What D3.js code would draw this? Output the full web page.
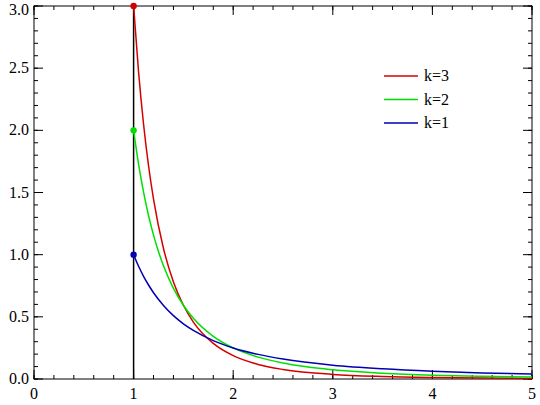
<!DOCTYPE html>
<html><head><meta charset="utf-8">
<script src="https://cdn.jsdelivr.net/npm/d3@7"></script>
<style>body{margin:0;background:#fff}</style>
</head><body><svg width="540" height="405"></svg>
<script>
var xs = [1, 1.05, 1.1, 1.15, 1.2, 1.3, 1.4, 1.5, 1.6, 1.8, 2, 2.25, 2.5, 3, 3.5, 4, 4.5, 5];
var k1 = [1, .907, .826, .756, .694, .592, .510, .444, .391, .309, .25, .198, .16, .111, .082, .0625, .049, .04];
var k2 = [2, 1.728, 1.503, 1.315, 1.157, .910, .729, .593, .488, .343, .25, .176, .128, .074, .047, .031, .022, .016];
var k3 = [3, 2.468, 2.049, 1.715, 1.447, 1.050, .781, .593, .458, .286, .1875, .117, .077, .037, .020, .0117, .0073, .0048];
var seriesNames = ['k=3', 'k=2', 'k=1'];
var seriesColors = ['#d40000', '#00e000', '#0000b4'];
var xTicks = [0, 1, 2, 3, 4, 5];
var yTicks = [0, 0.5, 1, 1.5, 2, 2.5, 3];
var font = "'Liberation Serif', 'Times New Roman', 'DejaVu Serif', serif";

var svg = d3.select('svg');
var x = d3.scaleLinear().domain([0, 5]).range([34, 532]);
var y = d3.scaleLinear().domain([0, 3]).range([379, 6]);

// inward ticks on all four sides
function ticks(vals, len, side) {
  vals.forEach(function (v) {
    if (side == 'b') svg.append('line').attr('x1', x(v)).attr('x2', x(v)).attr('y1', 379).attr('y2', 379 - len);
    if (side == 't') svg.append('line').attr('x1', x(v)).attr('x2', x(v)).attr('y1', 6).attr('y2', 6 + len);
    if (side == 'l') svg.append('line').attr('y1', y(v)).attr('y2', y(v)).attr('x1', 34).attr('x2', 34 + len);
    if (side == 'r') svg.append('line').attr('y1', y(v)).attr('y2', y(v)).attr('x1', 532).attr('x2', 532 - len);
  });
}
var xMinor = d3.range(0, 5.001, 0.2), yMinor = d3.range(0, 3.001, 0.1);
['b', 't'].forEach(function (s) { ticks(xTicks, 9, s); ticks(xMinor, 4, s); });
['l', 'r'].forEach(function (s) { ticks(yTicks, 9, s); ticks(yMinor, 4, s); });
svg.selectAll('line').attr('stroke', '#000').attr('stroke-width', 1);

svg.append('rect').attr('x', 34).attr('y', 6).attr('width', 498).attr('height', 373)
  .attr('fill', 'none').attr('stroke', '#000');

svg.selectAll('.xl').data(xTicks).enter().append('text')
  .attr('x', function (d) { return x(d); }).attr('y', 399).attr('text-anchor', 'middle').text(String);
svg.selectAll('.yl').data(yTicks).enter().append('text')
  .attr('x', 29).attr('y', function (d) { return Math.max(y(d) + 5, 15); }).attr('text-anchor', 'end')
  .text(function (d) { return d.toFixed(1); });

svg.append('line').attr('x1', x(1)).attr('x2', x(1)).attr('y1', y(0)).attr('y2', y(3))
  .attr('stroke', '#000').attr('stroke-width', 1.5);

var line = d3.line().x(function (d, i) { return x(xs[i]); }).y(function (d) { return y(d); })
  .curve(d3.curveMonotoneX);
[k3, k2, k1].forEach(function (s, i) {
  svg.append('path').attr('d', line(s)).attr('fill', 'none')
    .attr('stroke', seriesColors[i]).attr('stroke-width', 1.5);
  svg.append('circle').attr('cx', x(1)).attr('cy', y(s[0])).attr('r', 3.2).attr('fill', seriesColors[i]);
  svg.append('line').attr('x1', 384).attr('x2', 418).attr('y1', 76 + i * 23.5).attr('y2', 76 + i * 23.5)
    .attr('stroke', seriesColors[i]).attr('stroke-width', 1.5);
  svg.append('text').attr('x', 424).attr('y', 81 + i * 23.5).text(seriesNames[i]);
});
svg.selectAll('text').attr('font-family', font).attr('font-size', 16).attr('fill', '#000');
</script></body></html>
